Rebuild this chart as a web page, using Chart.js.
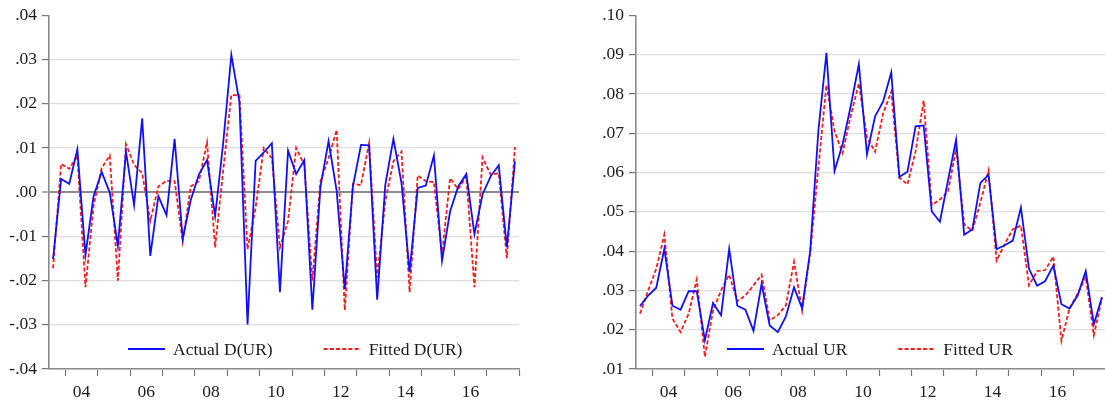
<!DOCTYPE html>
<html>
<head>
<meta charset="utf-8">
<script src="https://cdn.jsdelivr.net/npm/chart.js@4.4.1/dist/chart.umd.min.js"></script>
<style>
  html, body { margin: 0; padding: 0; background: #fff; overflow: hidden; width: 1105px; height: 401px; }
  .panel { position: absolute; top: 0; }
</style>
</head>
<body>
<div class="panel" style="left:0px"><canvas id="durChart" width="530" height="401"></canvas></div>
<div class="panel" style="left:587px"><canvas id="urChart" width="530" height="401"></canvas></div>
<script>
// Quarterly sample, 2003Q3 - 2017Q4
const quarters = [
  '2003Q3','2003Q4',
  '2004Q1','2004Q2','2004Q3','2004Q4',
  '2005Q1','2005Q2','2005Q3','2005Q4',
  '2006Q1','2006Q2','2006Q3','2006Q4',
  '2007Q1','2007Q2','2007Q3','2007Q4',
  '2008Q1','2008Q2','2008Q3','2008Q4',
  '2009Q1','2009Q2','2009Q3','2009Q4',
  '2010Q1','2010Q2','2010Q3','2010Q4',
  '2011Q1','2011Q2','2011Q3','2011Q4',
  '2012Q1','2012Q2','2012Q3','2012Q4',
  '2013Q1','2013Q2','2013Q3','2013Q4',
  '2014Q1','2014Q2','2014Q3','2014Q4',
  '2015Q1','2015Q2','2015Q3','2015Q4',
  '2016Q1','2016Q2','2016Q3','2016Q4',
  '2017Q1','2017Q2','2017Q3','2017Q4'
];

// Years that get a tick mark at their start, and years that get a label
const tickYears = [2004, 2005, 2006, 2007, 2008, 2009, 2010, 2011, 2012, 2013, 2014, 2015, 2016, 2017, 2018];
const labelYears = [2004, 2006, 2008, 2010, 2012, 2014, 2016];
const yearTickLabels = ['04', '06', '08', '10', '12', '14', '16'];

// First difference of the unemployment rate
const actualDUR = [
  -0.0151, 0.0030, 0.0019, 0.0097, -0.0142, -0.0009, 0.0046, -0.0001, -0.0121, 0.0092,
  -0.0029, 0.0167, -0.0144, -0.0009, -0.0052, 0.0121, -0.0105, -0.0017, 0.0040, 0.0073,
  -0.0054, 0.0112, 0.0311, 0.0204, -0.0299, 0.0071, 0.0090, 0.0111, -0.0226, 0.0094,
  0.0041, 0.0073, -0.0266, 0.0013, 0.0116, 0.0003, -0.0219, 0.0013, 0.0107, 0.0106,
  -0.0243, 0.0017, 0.0121, 0.0021, -0.0181, 0.0010, 0.0015, 0.0083, -0.0155, -0.0043,
  0.0013, 0.0041, -0.0095, -0.0005, 0.0036, 0.0061, -0.0124, 0.0070
];
const fittedDUR = [
  -0.0172, 0.0064, 0.0053, 0.0083, -0.0215, -0.0031, 0.0055, 0.0083, -0.0200, 0.0109,
  0.0062, 0.0043, -0.0065, 0.0013, 0.0026, 0.0025, -0.0112, 0.0013, 0.0025, 0.0113,
  -0.0125, 0.0050, 0.0220, 0.0220, -0.0129, -0.0035, 0.0100, 0.0077, -0.0125, -0.0065,
  0.0100, 0.0062, -0.0200, 0.0025, 0.0077, 0.0141, -0.0267, 0.0019, 0.0016, 0.0111,
  -0.0193, -0.0020, 0.0070, 0.0092, -0.0226, 0.0038, 0.0025, 0.0023, -0.0140, 0.0032,
  0.0007, 0.0036, -0.0215, 0.0079, 0.0040, 0.0043, -0.0149, 0.0102
];

// Unemployment rate level
const actualUR = [
  0.0260, 0.0287, 0.0307, 0.0406, 0.0261, 0.0251, 0.0298, 0.0298, 0.0173, 0.0268,
  0.0237, 0.0406, 0.0261, 0.0251, 0.0197, 0.0317, 0.0211, 0.0194, 0.0234, 0.0308,
  0.0255, 0.0401, 0.0705, 0.0905, 0.0604, 0.0673, 0.0770, 0.0876, 0.0647, 0.0743,
  0.0781, 0.0855, 0.0589, 0.0602, 0.0718, 0.0720, 0.0501, 0.0475, 0.0580, 0.0684,
  0.0442, 0.0455, 0.0574, 0.0594, 0.0405, 0.0415, 0.0427, 0.0511, 0.0355, 0.0312,
  0.0324, 0.0363, 0.0265, 0.0254, 0.0287, 0.0349, 0.0214, 0.0283
];
const fittedUR = [
  0.0241, 0.0300, 0.0355, 0.0442, 0.0228, 0.0194, 0.0241, 0.0328, 0.0131, 0.0249,
  0.0300, 0.0340, 0.0273, 0.0287, 0.0313, 0.0340, 0.0224, 0.0237, 0.0262, 0.0373,
  0.0249, 0.0395, 0.0612, 0.0823, 0.0705, 0.0650, 0.0745, 0.0827, 0.0690, 0.0653,
  0.0751, 0.0806, 0.0587, 0.0570, 0.0654, 0.0783, 0.0517, 0.0532, 0.0551, 0.0661,
  0.0468, 0.0452, 0.0524, 0.0605, 0.0376, 0.0418, 0.0456, 0.0465, 0.0313, 0.0349,
  0.0352, 0.0386, 0.0172, 0.0254, 0.0292, 0.0334, 0.0186, 0.0280
];

// Value axis ticks
const durTicks = [-0.04, -0.03, -0.02, -0.01, 0.00, 0.01, 0.02, 0.03, 0.04];
const urTicks = [0.01, 0.02, 0.03, 0.04, 0.05, 0.06, 0.07, 0.08, 0.09, 0.10];

const FONT_FAMILY = '"Liberation Serif", "Times New Roman", serif';
const FONT_SIZE = 17.5;
const TEXT_COLOR = '#1c1c1c';
const AXIS_COLOR = '#8a8a8a';

// Each quarter sits in the middle of its own interval on the time axis
function yearStart(year) {
  const i = quarters.indexOf(year + 'Q1');
  return i < 0 ? quarters.length : i;
}
const boundaryValues = tickYears.map(yearStart);
const labelMap = new Map(labelYears.map((y, k) => [yearStart(y) + 2, yearTickLabels[k]]));

function toPoints(values) {
  return values.map((v, i) => ({ x: i + 0.5, y: v }));
}

function fmtValue(v) {
  const s = Math.abs(v).toFixed(2).slice(1);
  return (v < -1e-9 ? '-' : '') + s;
}

// Legend drawn inside the plot area, just above the time axis
const insideLegend = {
  id: 'insideLegend',
  afterDraw(chart, args, opts) {
    const ctx = chart.ctx;
    const area = chart.chartArea;
    let x = area.left + opts.offsetX;
    const y = area.bottom - opts.offsetY;
    ctx.save();
    ctx.font = opts.font;
    ctx.textBaseline = 'middle';
    ctx.textAlign = 'left';
    chart.data.datasets.forEach(ds => {
      ctx.beginPath();
      ctx.strokeStyle = ds.borderColor;
      ctx.lineWidth = ds.borderWidth;
      ctx.setLineDash(ds.borderDash || []);
      ctx.moveTo(x, y);
      ctx.lineTo(x + opts.lineLength, y);
      ctx.stroke();
      ctx.setLineDash([]);
      x += opts.lineLength + opts.textGap;
      ctx.fillStyle = opts.color;
      ctx.fillText(ds.label, x, y + 1);
      x += ctx.measureText(ds.label).width + opts.itemGap;
    });
    ctx.restore();
  }
};

function makeChart(canvasId, actual, fitted, labels, yTicks, legendOffset) {
  const yMin = yTicks[0];
  const yMax = yTicks[yTicks.length - 1];
  return new Chart(document.getElementById(canvasId), {
    type: 'line',
    data: {
      datasets: [
        {
          label: labels[0],
          data: toPoints(actual),
          borderColor: '#1010ff',
          borderWidth: 1.8,
          pointRadius: 0,
          tension: 0,
          fill: false
        },
        {
          label: labels[1],
          data: toPoints(fitted),
          borderColor: '#ff1a1a',
          borderWidth: 1.8,
          borderDash: [4, 2.2],
          pointRadius: 0,
          tension: 0,
          fill: false
        }
      ]
    },
    options: {
      responsive: false,
      animation: false,
      devicePixelRatio: 1,
      layout: { padding: { top: 13, right: 11, bottom: 0, left: 0 } },
      plugins: {
        legend: { display: false },
        tooltip: { enabled: false },
        insideLegend: {
          offsetX: legendOffset,
          offsetY: 20,
          lineLength: 37,
          textGap: 8,
          itemGap: 51,
          font: FONT_SIZE + 'px ' + FONT_FAMILY,
          color: TEXT_COLOR
        }
      },
      scales: {
        x: {
          type: 'linear',
          min: 0,
          max: quarters.length,
          afterBuildTicks(scale) {
            const vals = boundaryValues.concat([...labelMap.keys()]).sort((a, b) => a - b);
            scale.ticks = vals.map(v => ({ value: v }));
          },
          afterFit(scale) { scale.height = 32; },
          ticks: {
            autoSkip: false,
            maxRotation: 0,
            padding: 6,
            color: TEXT_COLOR,
            font: { family: FONT_FAMILY, size: FONT_SIZE },
            callback: v => labelMap.get(v) || ''
          },
          grid: {
            drawOnChartArea: false,
            drawTicks: true,
            tickLength: 7,
            tickWidth: 1.2,
            tickColor: ctx => labelMap.has(ctx.tick.value) ? 'rgba(0,0,0,0)' : '#777'
          },
          border: { display: true, color: AXIS_COLOR, width: 1.6 }
        },
        y: {
          min: yMin,
          max: yMax,
          afterBuildTicks(scale) {
            scale.ticks = yTicks.map(v => ({ value: v }));
          },
          afterFit(scale) { scale.width = 49; },
          ticks: {
            padding: 5,
            color: TEXT_COLOR,
            font: { family: FONT_FAMILY, size: FONT_SIZE },
            callback: v => fmtValue(v)
          },
          grid: {
            drawTicks: true,
            tickLength: 7,
            tickWidth: 1.2,
            tickColor: '#777',
            color: ctx => {
              const v = ctx.tick.value;
              if (Math.abs(v - yMax) < 1e-9) return 'rgba(0,0,0,0)';
              if (Math.abs(v) < 1e-9) return '#8c8c8c';
              return '#dedede';
            },
            lineWidth: ctx => (Math.abs(ctx.tick.value) < 1e-9 ? 2 : 1.2)
          },
          border: { display: true, color: AXIS_COLOR, width: 1.6 }
        }
      }
    },
    plugins: [insideLegend]
  });
}

makeChart('durChart', actualDUR, fittedDUR, ['Actual D(UR)', 'Fitted D(UR)'], durTicks, 79);
makeChart('urChart', actualUR, fittedUR, ['Actual UR', 'Fitted UR'], urTicks, 91);
</script>
</body>
</html>
